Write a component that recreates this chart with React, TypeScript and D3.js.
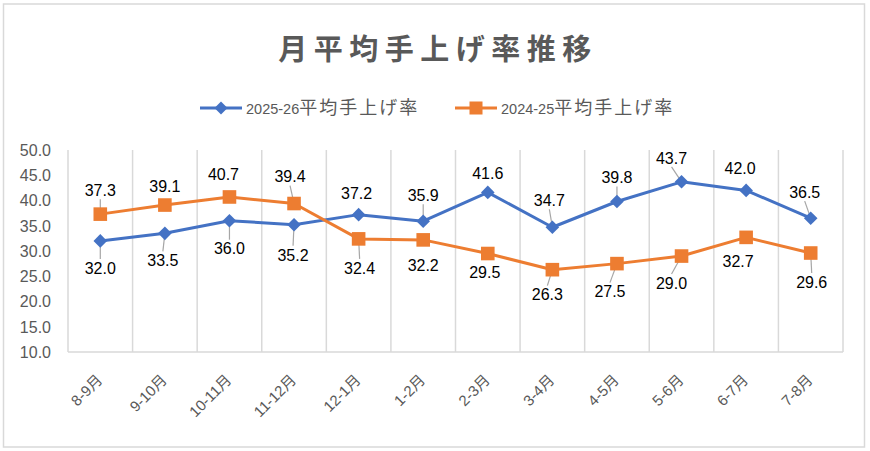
import React, { useEffect, useRef } from "react";
import * as d3 from "d3";

const categories = [
  "8-9月", "9-10月", "10-11月", "11-12月", "12-1月", "1-2月",
  "2-3月", "3-4月", "4-5月", "5-6月", "6-7月", "7-8月",
];
const rate2526 = [32.0, 33.5, 36.0, 35.2, 37.2, 35.9, 41.6, 34.7, 39.8, 43.7, 42.0, 36.5];
const rate2425 = [37.3, 39.1, 40.7, 39.4, 32.4, 32.2, 29.5, 26.3, 27.5, 29.0, 32.7, 29.6];
const yTicks = [10, 15, 20, 25, 30, 35, 40, 45, 50];
const seriesNames = ["2025-26", "2024-25"];
const legendSuffix = "平均手上げ率";
const title = "月平均手上げ率推移";

// label placement (px offsets from the marker), moved labels get a leader line
const label2526 = {
  dx: [0, -2, 0, -1, -2, 0, 0, -3, 0, -10, -6, -6],
  dy: [27, 27, 28, 30, -21, -26, -19, -27, -24, -24, -22, -26],
  leader: [1, 1, 1, 1, 0, 1, 0, 1, 1, 1, 0, 1],
};
const label2425 = {
  dx: [0, 0, -6, -4, 1, 0, -3, -5, -7, -10, -8, 1],
  dy: [-24, -19, -23, -27, 29, 25, 19, 25, 28, 27, 24, 29],
  leader: [1, 0, 0, 1, 1, 0, 0, 1, 1, 1, 0, 1],
};

type LabelLayout = { dx: number[]; dy: number[]; leader: number[] };

const BLUE = "#4472C4";
const ORANGE = "#ED7D31";
const GRID = "#d9d9d9";
const TEXT = "#595959";
const LATIN = "'Liberation Sans', Arial, sans-serif";
const CJK = "'Noto Sans CJK JP', sans-serif";

export default function App() {
  const svgRef = useRef<SVGSVGElement>(null);

  useEffect(() => {
    if (!svgRef.current) return;
    const svg = d3.select(svgRef.current);
    svg.selectAll("*").remove();

    const width = 870;
    const height = 451;

    svg.append("rect").attr("width", width).attr("height", height).attr("fill", "#fff");
    svg
      .append("rect")
      .attr("x", 3.5)
      .attr("y", 4)
      .attr("width", 861)
      .attr("height", 443)
      .attr("fill", "none")
      .attr("stroke", GRID)
      .attr("stroke-width", 1.5);

    const x = d3.scaleBand<string>().domain(categories).range([68, 843]);
    const y = d3.scaleLinear().domain([10, 50]).range([352, 150]);
    const cx = (i: number) => (x(categories[i]) as number) + x.bandwidth() / 2;

    // title
    svg
      .append("text")
      .attr("x", 438)
      .attr("y", 60)
      .attr("text-anchor", "middle")
      .style("font-family", CJK)
      .style("font-size", "29px")
      .style("font-weight", "bold")
      .style("letter-spacing", "6.5px")
      .style("fill", TEXT)
      .text(title);

    // legend
    const legend = svg.append("g").attr("transform", "translate(0,108)");
    const legendItems = [
      { name: seriesNames[0], color: BLUE, x0: 200, shape: "diamond" },
      { name: seriesNames[1], color: ORANGE, x0: 455, shape: "square" },
    ];
    legendItems.forEach((it) => {
      legend
        .append("line")
        .attr("x1", it.x0)
        .attr("x2", it.x0 + 42)
        .attr("stroke", it.color)
        .attr("stroke-width", 3);
      if (it.shape === "diamond") {
        legend.append("path").attr("d", diamond(it.x0 + 21, 0, 6.5)).attr("fill", it.color);
      } else {
        legend
          .append("rect")
          .attr("x", it.x0 + 21 - 6.5)
          .attr("y", -6.5)
          .attr("width", 13)
          .attr("height", 13)
          .attr("fill", it.color);
      }
      const t = legend
        .append("text")
        .attr("x", it.x0 + 46)
        .attr("y", 6)
        .style("fill", TEXT);
      t.append("tspan").style("font-family", LATIN).style("font-size", "14.5px").text(it.name);
      t.append("tspan")
        .style("font-family", CJK)
        .style("font-size", "18px")
        .style("letter-spacing", "2px")
        .text(legendSuffix);
    });

    // vertical gridlines at category boundaries
    const bounds = categories.map((c) => x(c) as number).concat([x.range()[1]]);
    svg
      .append("g")
      .selectAll("line")
      .data(bounds)
      .enter()
      .append("line")
      .attr("x1", (d) => d)
      .attr("x2", (d) => d)
      .attr("y1", y(50))
      .attr("y2", y(10))
      .attr("stroke", GRID)
      .attr("stroke-width", 1.5);

    // category axis line
    svg
      .append("line")
      .attr("x1", x.range()[0])
      .attr("x2", x.range()[1])
      .attr("y1", y(10))
      .attr("y2", y(10))
      .attr("stroke", GRID)
      .attr("stroke-width", 1.5);

    // y tick labels
    svg
      .append("g")
      .selectAll("text")
      .data(yTicks)
      .enter()
      .append("text")
      .attr("x", 51)
      .attr("y", (d) => y(d))
      .attr("dy", "0.36em")
      .attr("text-anchor", "end")
      .style("font-family", LATIN)
      .style("font-size", "16px")
      .style("fill", TEXT)
      .text((d) => d.toFixed(1));

    // x tick labels, rotated
    svg
      .append("g")
      .selectAll("text")
      .data(categories)
      .enter()
      .append("text")
      .attr("transform", (_d, i) => `translate(${cx(i) + 3},381) rotate(-45)`)
      .attr("text-anchor", "end")
      .style("font-family", `${LATIN}, ${CJK}`)
      .style("font-size", "15px")
      .style("fill", TEXT)
      .text((d) => d);

    const line = d3
      .line<number>()
      .x((_d, i) => cx(i))
      .y((d) => y(d));

    const drawSeries = (values: number[], color: string, shape: string, lab: LabelLayout) => {
      const g = svg.append("g");

      // leader lines from moved labels to their markers
      values.forEach((v, i) => {
        if (!lab.leader[i]) return;
        g.append("line")
          .attr("x1", cx(i) + lab.dx[i])
          .attr("y1", y(v) + lab.dy[i] + (lab.dy[i] > 0 ? -9 : 9))
          .attr("x2", cx(i))
          .attr("y2", y(v))
          .attr("stroke", "#a6a6a6")
          .attr("stroke-width", 1.2);
      });

      g.append("path")
        .datum(values)
        .attr("d", line)
        .attr("fill", "none")
        .attr("stroke", color)
        .attr("stroke-width", 3)
        .attr("stroke-linejoin", "round");

      if (shape === "diamond") {
        g.selectAll(".mk")
          .data(values)
          .enter()
          .append("path")
          .attr("d", (d, i) => diamond(cx(i), y(d), 6.8))
          .attr("fill", color);
      } else {
        g.selectAll(".mk")
          .data(values)
          .enter()
          .append("rect")
          .attr("x", (_d, i) => cx(i) - 6.8)
          .attr("y", (d) => y(d) - 6.8)
          .attr("width", 13.6)
          .attr("height", 13.6)
          .attr("fill", color);
      }
    };

    drawSeries(rate2526, BLUE, "diamond", label2526);
    drawSeries(rate2425, ORANGE, "square", label2425);

    const drawLabels = (values: number[], lab: LabelLayout) => {
      svg
        .append("g")
        .selectAll("text")
        .data(values)
        .enter()
        .append("text")
        .attr("x", (_d, i) => cx(i) + lab.dx[i])
        .attr("y", (d, i) => y(d) + lab.dy[i])
        .attr("dy", "0.36em")
        .attr("text-anchor", "middle")
        .style("font-family", LATIN)
        .style("font-size", "16px")
        .style("fill", "#000")
        .text((d) => d.toFixed(1));
    };
    drawLabels(rate2526, label2526);
    drawLabels(rate2425, label2425);
  }, []);

  return (
    <svg
      ref={svgRef}
      width={870}
      height={451}
      style={{ position: "absolute", left: 0, top: 0 }}
    />
  );
}

function diamond(x: number, y: number, r: number) {
  return `M${x},${y - r}L${x + r},${y}L${x},${y + r}L${x - r},${y}Z`;
}
